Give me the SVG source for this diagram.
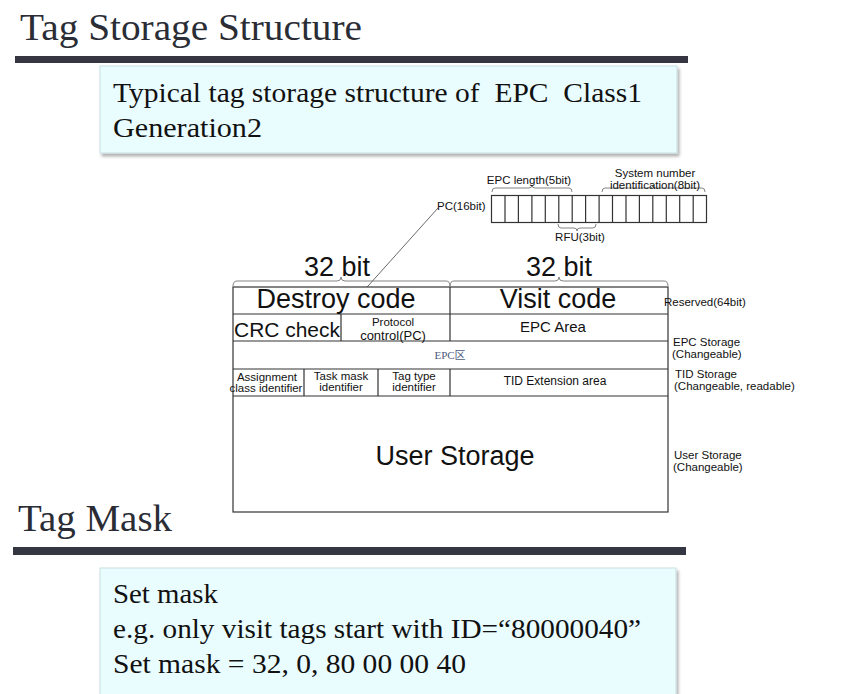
<svg xmlns="http://www.w3.org/2000/svg" width="849" height="694" viewBox="0 0 849 694">
<defs>
<filter id="sh" x="-5%" y="-10%" width="110%" height="130%">
<feDropShadow dx="2" dy="3" stdDeviation="1.5" flood-color="#000" flood-opacity="0.3"/>
</filter>
<style>
.title{font-family:"Liberation Serif",serif;font-size:38px;fill:#2a2d35}
.body{font-family:"Liberation Serif",serif;font-size:27px;fill:#111}
.bar{fill:#343741}
.box{fill:#e9fcfe;stroke:#c9dfe2;stroke-width:1}
.cell{fill:#fff;stroke:#333;stroke-width:1.2}
.ln{stroke:#333;stroke-width:1.2;fill:none}
.thin{stroke:#666;stroke-width:0.8;fill:none}
.s{font-family:"Liberation Sans",Arial,sans-serif;fill:#111}
.c{text-anchor:middle}
</style>
</defs>
<rect width="849" height="694" fill="#fff"/>

<g id="title1">
<text class="title" x="20" y="40" textLength="342" lengthAdjust="spacingAndGlyphs">Tag Storage Structure</text>
<rect class="bar" x="15" y="56" width="673" height="7"/>
</g>

<g id="box1">
<rect class="box" x="100" y="66" width="577" height="87" filter="url(#sh)"/>
<text class="body" x="113" y="102" textLength="529" lengthAdjust="spacingAndGlyphs" xml:space="preserve">Typical tag storage structure of  EPC  Class1</text>
<text class="body" x="113" y="137" textLength="149" lengthAdjust="spacingAndGlyphs">Generation2</text>
</g>

<g id="pc-register">
<rect x="491.5" y="195.5" width="215" height="27" class="cell"/>
<path class="ln" d="M505 195.5V222.5M518.4 195.5V222.5M531.9 195.5V222.5M545.3 195.5V222.5M558.8 195.5V222.5M572.2 195.5V222.5M585.6 195.5V222.5M599.1 195.5V222.5M612.5 195.5V222.5M626 195.5V222.5M639.4 195.5V222.5M652.8 195.5V222.5M666.3 195.5V222.5M679.7 195.5V222.5M693.2 195.5V222.5"/>
<text class="s" x="437" y="210" font-size="11.5">PC(16bit)</text>
<path class="thin" d="M492 192Q492 188 495 188L529 188Q532 188 532 185Q532 188 535 188L569 188Q572 188 572 192"/>
<text class="s c" x="529" y="184" font-size="11.5">EPC length(5bit)</text>
<path class="thin" d="M602 192Q602 188 605 188L650 188Q653 188 653 185Q653 188 656 188L702 188Q705 188 705 192"/>
<text class="s c" x="655" y="177" font-size="11.5">System number</text>
<text class="s c" x="655" y="189" font-size="11.5">identification(8bit)</text>
<path class="thin" d="M558 224Q558 228 561 228L574 228Q577 228 577 231Q577 228 580 228L593 228Q596 228 596 224"/>
<text class="s c" x="580" y="241" font-size="11.5">RFU(3bit)</text>
</g>

<g id="connectors">
<line x1="438" y1="208" x2="342" y2="315" stroke="#444" stroke-width="0.8"/>
<circle cx="342" cy="315" r="1.3" fill="#222"/>
</g>

<g id="bit-labels">
<path class="thin" d="M233 286Q233 281 237 281L337 281Q341 281 341 277Q341 281 345 281L446 281Q450 281 450 286"/>
<text class="s" x="304" y="276" font-size="27">32 bit</text>
<path class="thin" d="M450 286Q450 281 454 281L555 281Q559 281 559 277Q559 281 563 281L664 281Q668 281 668 286"/>
<text class="s" x="526" y="276" font-size="27">32 bit</text>
</g>

<g id="memory-table">
<rect class="cell" x="233" y="287" width="435" height="225"/>
<path class="ln" d="M233 314H668M233 341H668M233 369H668M233 396H668M450 287V341M341 314V341M304 369V396M378 369V396M450 369V396"/>
<text class="s c" x="336" y="308" font-size="27">Destroy code</text>
<text class="s c" x="558" y="308" font-size="27">Visit code</text>
<text class="s" x="234" y="337" font-size="21" textLength="106" lengthAdjust="spacingAndGlyphs">CRC check</text>
<text class="s c" x="393" y="325.5" font-size="11.5">Protocol</text>
<text class="s c" x="393" y="340" font-size="13">control(PC)</text>
<text class="s c" x="553" y="332" font-size="15">EPC Area</text>
<text x="450" y="359" font-size="11" fill="#4d5b80" text-anchor="middle" font-family="'Liberation Serif','Noto Sans CJK SC',serif">EPC区</text>
<text class="s c" x="267" y="381" font-size="11.5">Assignment</text>
<text class="s c" x="266" y="392" font-size="11.5">class identifier</text>
<text class="s c" x="341" y="380" font-size="11.5">Task mask</text>
<text class="s c" x="341" y="391" font-size="11.5">identifier</text>
<text class="s c" x="414" y="380" font-size="11.5">Tag type</text>
<text class="s c" x="414" y="391" font-size="11.5">identifier</text>
<text class="s c" x="555" y="385" font-size="12">TID Extension area</text>
<text class="s c" x="455" y="465" font-size="27">User Storage</text>
</g>

<g id="side-labels">
<text class="s" x="664" y="306" font-size="11.5">Reserved(64bit)</text>
<text class="s" x="673" y="346" font-size="11.5">EPC Storage</text>
<text class="s" x="672" y="357.5" font-size="11.5">(Changeable)</text>
<text class="s" x="675" y="378" font-size="11.5">TID Storage</text>
<text class="s" x="674" y="389.5" font-size="11.5">(Changeable, readable)</text>
<text class="s" x="674" y="459" font-size="11.5">User Storage</text>
<text class="s" x="673" y="470.5" font-size="11.5">(Changeable)</text>
</g>

<g id="title2">
<text class="title" x="18" y="531" textLength="154" lengthAdjust="spacingAndGlyphs">Tag Mask</text>
<rect class="bar" x="13" y="547" width="673" height="8"/>
</g>

<g id="box2">
<rect class="box" x="100" y="568" width="576" height="140" filter="url(#sh)"/>
<text class="body" x="113" y="603" textLength="105" lengthAdjust="spacingAndGlyphs">Set mask</text>
<text class="body" x="113" y="638" textLength="528" lengthAdjust="spacingAndGlyphs">e.g. only visit tags start with ID=“80000040”</text>
<text class="body" x="113" y="673" textLength="353" lengthAdjust="spacingAndGlyphs">Set mask = 32, 0, 80 00 00 40</text>
</g>
</svg>
